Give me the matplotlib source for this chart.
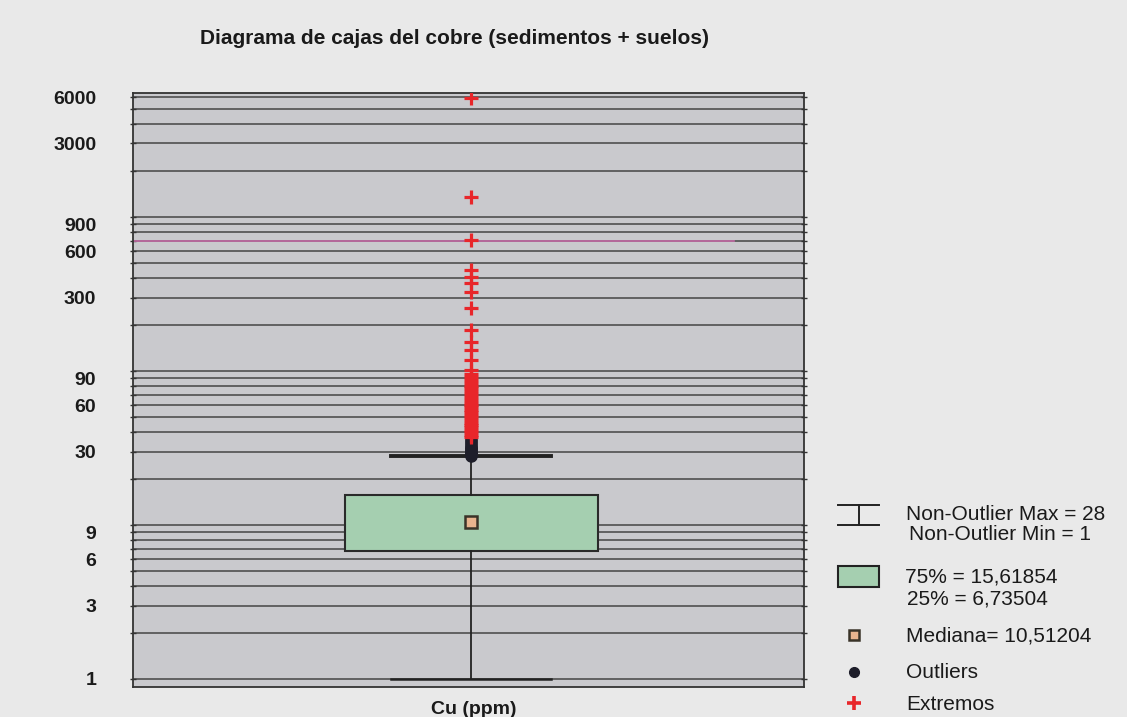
import numpy as np
import matplotlib.pyplot as plt
from matplotlib.patches import Rectangle
from matplotlib.ticker import FixedLocator, NullFormatter

plt.rcParams['font.family'] = ['Liberation Sans', 'DejaVu Sans']

# ------------------------------
# Summary statistics (Cu, ppm)
# ------------------------------
q1 = 6.73504
q3 = 15.61854
median = 10.51204
whisker_lo = 1
whisker_hi = 28

# points above the non-outlier max
outliers = [28, 28.5, 29, 29.5, 30, 30.5, 31, 31.5, 32, 33, 34, 35, 36]
extremes = [37.5, 38.5, 40, 41.5, 43, 44.5, 46, 48, 50, 52, 54, 56, 58, 60,
            62, 65, 68, 71, 74, 77, 80, 84, 88, 92, 96, 101,
            118, 137, 154, 185, 257, 326, 373, 408, 453, 709, 1349, 5900]

tick_values = [1, 3, 6, 9, 30, 60, 90, 300, 600, 900, 3000, 6000]

title = "Diagrama de cajas del cobre (sedimentos + suelos)"
xlabel = "Cu (ppm)"


def es(v):
    # decimal comma
    return f"{v}".replace(".", ",")


# ------------------------------
# Figure / axes
# ------------------------------
W, H = 1127, 717
fig = plt.figure(figsize=(W / 100, H / 100), dpi=100, facecolor="#e9e9e9")
ax = fig.add_axes([133 / W, 30 / H, 671 / W, 594 / H])
ax.set_facecolor("#c9c9cd")

ax.set_yscale("log")
ax.set_ylim(10 ** -0.052, 10 ** 3.805)
ax.set_xlim(0, 1)

grid_vals = [m * 10 ** k for k in range(0, 4) for m in range(1, 10)]
minor_vals = [g for g in grid_vals if g not in tick_values]
ax.yaxis.set_major_locator(FixedLocator(tick_values))
ax.yaxis.set_major_formatter(plt.FuncFormatter(lambda v, p: f"{v:g}"))
ax.yaxis.set_minor_locator(FixedLocator(minor_vals))
ax.yaxis.set_minor_formatter(NullFormatter())
ax.grid(True, which="both", axis="y", color="#454545", linewidth=1.1, zorder=1)
ax.set_axisbelow(True)
ax.tick_params(axis="y", which="both", direction="inout", length=5, width=1,
               color="#333333", left=True, right=True, pad=24)
ax.tick_params(axis="y", which="major", labelsize=14, labelcolor="#1a1a1a")
for lab in ax.get_yticklabels():
    lab.set_fontweight("bold")
ax.set_xticks([])
for sp in ax.spines.values():
    sp.set_color("#333333")
    sp.set_linewidth(1.3)

# faint magenta line across the 700 level
ax.axhline(700, xmin=0, xmax=0.895, color="#c46aa5", linewidth=1.2, zorder=2)

# ------------------------------
# Box and whiskers
# ------------------------------
xc = 0.504
stats = [dict(med=median, q1=q1, q3=q3, whislo=whisker_lo, whishi=whisker_hi, fliers=[])]
parts = ax.bxp(stats, positions=[xc], widths=0.377, capwidths=0.238, patch_artist=True,
               showfliers=False,
               boxprops=dict(facecolor="#a5cfb0", edgecolor="#2a2a2a", linewidth=1.5),
               whiskerprops=dict(color="#222222", linewidth=1.3),
               capprops=dict(color="#222222", linewidth=2.4),
               medianprops=dict(linestyle="none"),
               manage_ticks=False)
# lower cap is drawn thinner than the upper one
parts["caps"][0].set_linewidth(1.8)
parts["caps"][1].set_linewidth(2.8)

ax.plot([xc], [median], marker="s", ms=8, mfc="#e9b48e", mec="#3a3328", mew=1.8,
        linestyle="none", zorder=5)
ax.plot([xc] * len(outliers), outliers, marker="o", ms=8, color="#1e1e2a",
        linestyle="none", zorder=4)
ax.plot([xc] * len(extremes), extremes, marker="+", ms=10, mew=2.3, color="#e8262a",
        linestyle="none", zorder=4)

# ------------------------------
# Titles
# ------------------------------
fig.text(455 / W, 1 - 38 / H, title, ha="center", va="center",
         fontsize=15, fontweight="bold", color="#1a1a1a")
fig.text(474 / W, 1 - 710 / H, xlabel, ha="center", va="center",
         fontsize=14, fontweight="bold", color="#1a1a1a")

# ------------------------------
# Key (pixel coordinates of the figure)
# ------------------------------
lax = fig.add_axes([0, 0, 1, 1], facecolor="none")
lax.set_xlim(0, W)
lax.set_ylim(H, 0)
lax.axis("off")

lax.plot([838, 879], [505, 505], color="#222222", lw=1.4)
lax.plot([838, 879], [525, 525], color="#222222", lw=1.4)
lax.plot([858.5, 858.5], [505, 525], color="#222222", lw=1.4)
lax.add_patch(Rectangle((838, 566), 41, 21, facecolor="#a5cfb0", edgecolor="#222222", lw=1.5))
lax.plot([854], [635], marker="s", ms=7, mfc="#e9b48e", mec="#3a3328", mew=1.8)
lax.plot([854], [672], marker="o", ms=7, color="#1e1e2a")
lax.plot([854], [703], marker="+", ms=10, mew=2.6, color="#e8262a")

txt = dict(fontsize=15, color="#1a1a1a", va="center", ha="left")
lax.text(906, 515, f"Non-Outlier Max = {whisker_hi}", **txt)
lax.text(909, 534, f"Non-Outlier Min = {whisker_lo}", **txt)
lax.text(905, 577, f"75% = {es(q3)}", **txt)
lax.text(907, 599, f"25% = {es(q1)}", **txt)
lax.text(906, 636, f"Mediana= {es(median)}", **txt)
lax.text(906, 672, "Outliers", **txt)
lax.text(906, 704, "Extremos", **txt)

fig.savefig("out.png", dpi=100, facecolor=fig.get_facecolor())
